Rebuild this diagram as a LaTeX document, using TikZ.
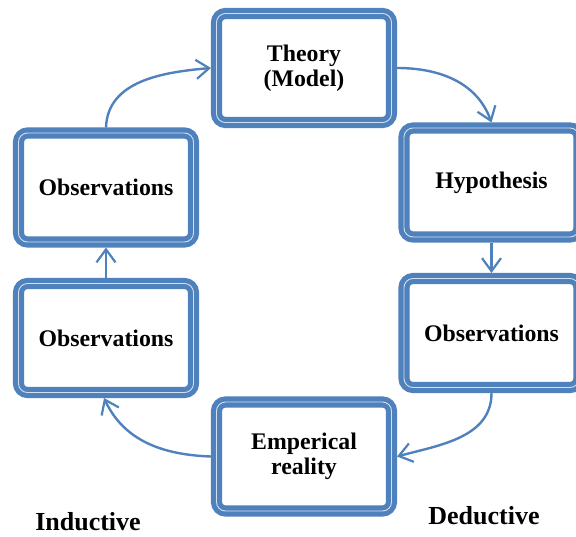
\documentclass[tikz,border=0pt]{standalone}
\usepackage{fontspec}
\setmainfont{Liberation Serif}
\usetikzlibrary{arrows.meta}
\definecolor{frameblue}{HTML}{4F81BD}
\definecolor{framelight}{HTML}{D2DFEE}
\begin{document}
\begin{tikzpicture}[x=1pt,y=-1pt,
  cyclebox/.style={draw=frameblue, double=framelight, double distance=0.9pt,
    line width=5.1pt, rounded corners=9pt, fill=white,
    minimum width=175pt, minimum height=109pt, outer sep=5.5pt,
    align=center, font=\bfseries\fontsize{23.8}{25}\selectfont, inner sep=0pt},
  flow/.style={draw=frameblue, line width=2.4pt,
    -{Straight Barb[length=13pt,width=19pt,line width=2.2pt]}},
  sidelabel/.style={font=\bfseries\fontsize{26}{28}\selectfont, inner sep=0pt}]
  \useasboundingbox (0,0) rectangle (576,536);
  \clip (0,0) rectangle (576,536);

  % the six stages of the research cycle
  \node[cyclebox] (theory) at (304,68)    {Theory\\(Model)};
  \node[cyclebox] (hyp)    at (491.5,182.5) {Hypothesis};
  \node[cyclebox] (obsR)   at (491.5,333) {Observations};
  \node[cyclebox] (emp)    at (304,456.5) {Emperical\\reality};
  \node[cyclebox] (obsLB)  at (106,338)   {Observations};
  \node[cyclebox] (obsLT)  at (106,187.5) {Observations};

  % connectors around the cycle
  \draw[flow] (obsLT.north) to[out=88,in=185] (theory.west);
  \draw[flow] (theory.east) to[out=0,in=110] (hyp.north);
  \draw[flow] (hyp.south) -- (obsR.north);
  \draw[flow] (obsR.south) to[out=-90,in=15] (emp.east);
  \draw[flow] (emp.west) to[out=178,in=-65] ([xshift=-2pt]obsLB.south);
  \draw[flow] (obsLB.north) -- (obsLT.south);

  % side captions
  \node[sidelabel] (ind) at (88,522) {Inductive};
  \node[sidelabel] (ded) at (484,516) {Deductive};
\end{tikzpicture}
\end{document}
